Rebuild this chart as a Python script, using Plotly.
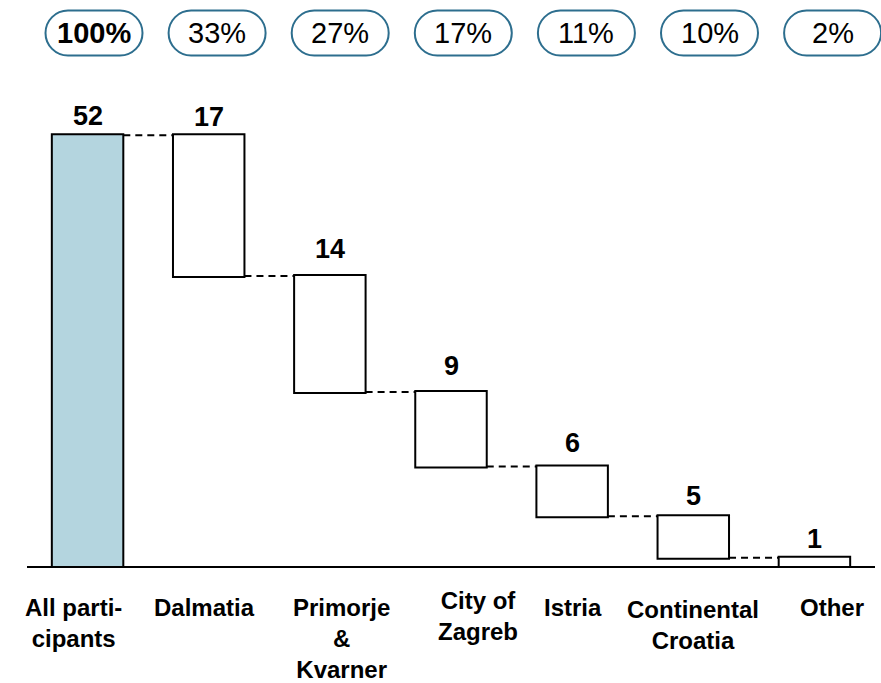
import plotly.graph_objects as go

# Participants by region
categories = ["All parti-<br>cipants", "Dalmatia", "Primorje<br>&<br>Kvarner",
              "City of<br>Zagreb", "Istria", "Continental<br>Croatia", "Other"]
counts = [52, 17, 14, 9, 6, 5, 1]
shares = ["100%", "33%", "27%", "17%", "11%", "10%", "2%"]

FONT = "Liberation Sans, Arial, sans-serif"
W, H = 881, 683
M = dict(l=27, r=6, t=69, b=117)
Y_MAX = 60

# per-label nudges (px) for the category captions
label_dx = [-14, -4, 12, 27, 1, 0, 18]
label_dy = [0, 0, 0, 7, 0, -2, 0]
# extra lift (px) of the value labels above their boxes
value_lift = [1, 0, 9, 8, 6, 2, 1]

idx = list(range(len(categories)))
measures = ["absolute"] + ["relative"] * (len(counts) - 1)
values = [counts[0]] + [-c for c in counts[1:]]

# top of each box = running total before the step
tops = []
running = 0
for m, v in zip(measures, values):
    if m == "absolute":
        running = v
        tops.append(v)
    else:
        tops.append(running)
        running += v

fig = go.Figure(go.Waterfall(
    x=idx,
    y=values,
    measure=measures,
    width=0.59,
    totals=dict(marker=dict(color="#b4d5df", line=dict(color="black", width=2))),
    decreasing=dict(marker=dict(color="white", line=dict(color="black", width=2))),
    increasing=dict(marker=dict(color="white", line=dict(color="black", width=2))),
    connector=dict(mode="between", line=dict(color="black", width=2, dash="7px,5px")),
    textinfo="none",
    hoverinfo="skip",
))

# value labels above each box
for i, (t, c) in enumerate(zip(tops, counts)):
    fig.add_annotation(x=i, y=t, text=f"<b>{c}</b>", showarrow=False,
                       yanchor="bottom", yshift=1 + value_lift[i],
                       font=dict(family=FONT, size=27, color="black"))

# category captions under the baseline
for i, c in enumerate(categories):
    fig.add_annotation(x=i, y=0, xref="x", yref="paper", text=f"<b>{c}</b>",
                       showarrow=False, xanchor="center", yanchor="top",
                       xshift=label_dx[i], yshift=-26 + label_dy[i],
                       align="center",
                       font=dict(family=FONT, size=24, color="black"))

# share pills across the top
plot_w = W - M["l"] - M["r"]
plot_h = H - M["t"] - M["b"]
pill_w, pill_h = 97, 45
r = pill_h / 2
half = pill_w / 2 - r
k = 0.5523 * r
pill_path = (
    f"M {-half},{-r} L {half},{-r} "
    f"C {half + k},{-r} {half + r},{-k} {half + r},0 "
    f"C {half + r},{k} {half + k},{r} {half},{r} "
    f"L {-half},{r} "
    f"C {-half - k},{r} {-half - r},{k} {-half - r},0 "
    f"C {-half - r},{-k} {-half - k},{-r} {-half},{-r} Z"
)
pill_y = 1 + (M["t"] - 33) / plot_h
for i, s in enumerate(shares):
    cx = (94 + 123.1 * i - M["l"]) / plot_w
    fig.add_shape(type="path", path=pill_path, xref="paper", yref="paper",
                  xsizemode="pixel", ysizemode="pixel", xanchor=cx, yanchor=pill_y,
                  line=dict(color="#2d6e8e", width=2), fillcolor="white", layer="above")
    label = f"<b>{s}</b>" if i == 0 else s
    fig.add_annotation(x=cx, y=pill_y, xref="paper", yref="paper", text=label,
                       showarrow=False, xanchor="center", yanchor="middle",
                       font=dict(family=FONT, size=29, color="black"))

fig.update_layout(
    width=W, height=H, autosize=False,
    margin=M,
    paper_bgcolor="white", plot_bgcolor="white",
    showlegend=False,
    xaxis=dict(
        range=[-0.5, len(categories) - 0.5],
        tickmode="array", tickvals=idx, showticklabels=False,
        showline=True, linecolor="black", linewidth=2,
        showgrid=False, zeroline=False, ticks="",
        fixedrange=True,
    ),
    yaxis=dict(range=[0, Y_MAX], visible=False, fixedrange=True),
)

fig.write_html("out.html")
